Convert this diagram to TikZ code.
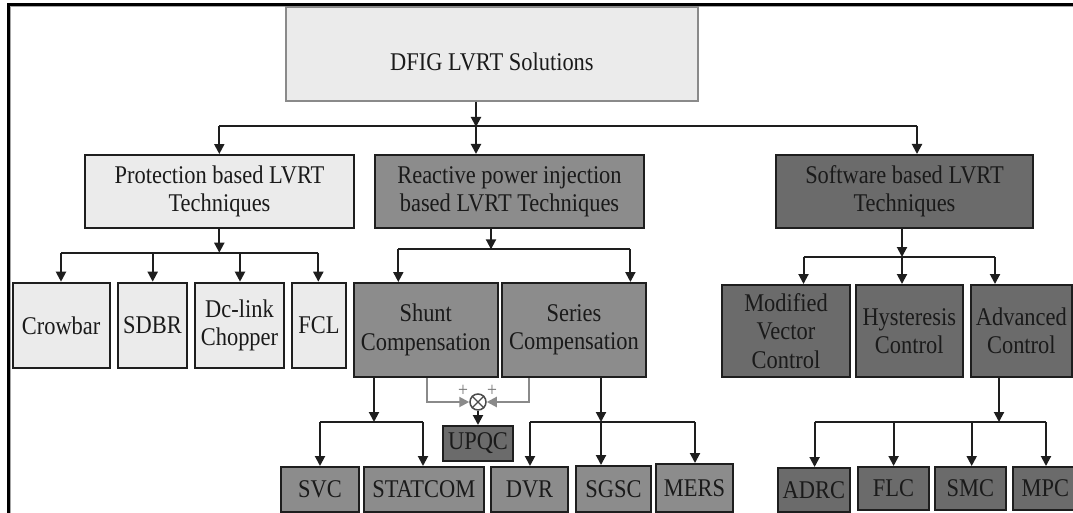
\documentclass[tikz,border=0pt]{standalone}
\usepackage{fontspec}
\setmainfont[FakeStretch=0.88]{Liberation Serif}
\usetikzlibrary{arrows.meta}
\definecolor{lightfill}{HTML}{EBEBEB}
\definecolor{midfill}{HTML}{8C8C8C}
\definecolor{darkfill}{HTML}{6B6B6B}
\definecolor{edgec}{HTML}{1E1E1E}
\definecolor{greyedge}{HTML}{8A8A8A}
\definecolor{txt}{HTML}{1A1A1A}
\begin{document}
\begin{tikzpicture}[x=1pt,y=-1pt,
  box/.style={draw=edgec, line width=2pt, inner sep=0pt, align=center, text=txt,
              font=\fontsize{25.5}{28.3}\selectfont},
  lbox/.style={box, fill=lightfill},
  mbox/.style={box, fill=midfill},
  dbox/.style={box, fill=darkfill},
  arr/.style={draw=edgec, line width=2pt, -{Triangle[length=10pt,width=10pt]}},
  ln/.style={draw=edgec, line width=2pt},
  garr/.style={draw=greyedge, line width=2pt, -{Triangle[length=10pt,width=10pt]}},
  plussign/.style={text=greyedge!85!black, font=\fontsize{20}{20}\selectfont, inner sep=0pt},
]
\useasboundingbox (0,0) rectangle (1073,513);
\clip (0,0) rectangle (1073,513);
\fill[white] (0,0) rectangle (1073,513);

% frame
\draw[line width=2.5pt, black] (8.7,513) -- (8.7,4.5) -- (1073,4.5);
\draw[line width=1pt, black!35] (10.7,513) -- (10.7,6.3) -- (1073,6.3);

% level 0
\node[lbox, draw=greyedge, minimum width=411.7pt, minimum height=93.4pt] (dfig) at (491.9,54)
  {\raisebox{-8pt}[\height][\depth]{DFIG LVRT Solutions}};

% level 1
\node[lbox, minimum width=269pt, minimum height=73.3pt] (prot) at (219.5,191.7) {Protection based LVRT\\Techniques};
\node[mbox, minimum width=269pt, minimum height=73pt] (reac) at (509.5,191.5) {Reactive power injection\\based LVRT Techniques};
\node[dbox, minimum width=257pt, minimum height=73pt] (soft) at (904.5,191.5) {Software based LVRT\\Techniques};

% level 2 protection
\node[lbox, minimum width=96.8pt, minimum height=85.6pt] (crow) at (61.1,325.5) {Crowbar};
\node[lbox, minimum width=69.6pt, minimum height=85.6pt] (sdbr) at (152.5,325.5) {SDBR};
\node[lbox, minimum width=89pt, minimum height=85.6pt] (dcl) at (239.5,325.5) {Dc-link\\Chopper};
\node[lbox, minimum width=53.4pt, minimum height=85.6pt] (fcl) at (319,325.5) {FCL};

% level 2 reactive
\node[mbox, minimum width=144.5pt, minimum height=94pt] (shunt) at (425.75,330) {Shunt\\Compensation};
\node[mbox, minimum width=144pt, minimum height=94pt] (series) at (574,330) {Series\\Compensation};

% level 2 software
\node[dbox, minimum width=128pt, minimum height=92pt] (mvc) at (786,331) {Modified\\Vector\\Control};
\node[dbox, minimum width=107.5pt, minimum height=92pt] (hyst) at (909.25,331) {Hysteresis\\Control};
\node[dbox, minimum width=101.3pt, minimum height=92pt] (adv) at (1021.35,331) {Advanced\\Control};

% level 3
\node[mbox, minimum width=78pt, minimum height=44.5pt] (svc) at (320,489.25) {SVC};
\node[mbox, minimum width=119.5pt, minimum height=44.5pt] (stat) at (423.75,489.25) {STATCOM};
\node[dbox, minimum width=70pt, minimum height=35pt] (upqc) at (478,443.5) {UPQC};
\node[mbox, minimum width=77pt, minimum height=44.5pt] (dvr) at (529.5,489.25) {DVR};
\node[mbox, minimum width=75pt, minimum height=45.5pt] (sgsc) at (613.5,488.75) {SGSC};
\node[mbox, minimum width=77pt, minimum height=47.5pt] (mers) at (694.5,487.75) {MERS};
\node[dbox, minimum width=72.4pt, minimum height=44pt] (adrc) at (813.8,490) {ADRC};
\node[dbox, minimum width=71pt, minimum height=43pt] (flc) at (893.5,488.5) {FLC};
\node[dbox, minimum width=70.7pt, minimum height=43pt] (smc) at (970.35,488.5) {SMC};
\node[dbox, minimum width=65.3pt, minimum height=43pt] (mpc) at (1045.35,488.5) {MPC};

% summing junction
\node[circle, draw=edgec!80, line width=1.5pt, minimum size=16pt, inner sep=0pt, fill=white] (sum) at (478,402) {};
\draw[edgec!80, line width=1.3pt] (sum.north west) -- (sum.south east) (sum.north east) -- (sum.south west);
\node[plussign] (p1) at (463,391) {+};
\node[plussign] (p2) at (492,391) {+};

% junction coordinates
\coordinate (j0) at (476,126);
\coordinate (b0l) at (219.3,126);
\coordinate (b0r) at (917,126);
\coordinate (j1) at (219.3,252.7);
\coordinate (j1l) at (61,252.7);
\coordinate (j1a) at (152.7,252.7);
\coordinate (j1b) at (240,252.7);
\coordinate (j1r) at (318.3,252.7);
\coordinate (j2) at (491,249.3);
\coordinate (j2l) at (398.3,249.3);
\coordinate (j2r) at (630.4,249.3);
\coordinate (j3) at (902,257);
\coordinate (j3l) at (803.5,257);
\coordinate (j3r) at (995,257);
\coordinate (j4) at (374,422);
\coordinate (j4l) at (320,422);
\coordinate (j4r) at (423,422);
\coordinate (j5) at (601,422);
\coordinate (j5l) at (530,422);
\coordinate (j5r) at (695,422);
\coordinate (j6) at (999,422);
\coordinate (j6l) at (814.6,422);
\coordinate (j6a) at (893.6,422);
\coordinate (j6b) at (971.7,422);
\coordinate (j6r) at (1046,422);
\coordinate (g1) at (426.7,402);
\coordinate (g2) at (529,402);

% level 0 -> 1
\draw[arr] (dfig.south -| j0) -- ([yshift=-1pt]j0);
\draw[ln] (b0l) -- (b0r);
\draw[arr] (b0l) -- (b0l |- prot.north);
\draw[arr] (j0) -- (j0 |- reac.north);
\draw[arr] (b0r) -- (b0r |- soft.north);

% protection
\draw[arr] (prot.south -| j1) -- (j1);
\draw[ln] (j1l) -- (j1r);
\draw[arr] (j1l) -- (j1l |- crow.north);
\draw[arr] (j1a) -- (j1a |- sdbr.north);
\draw[arr] (j1b) -- (j1b |- dcl.north);
\draw[arr] (j1r) -- (j1r |- fcl.north);

% reactive
\draw[arr] (reac.south -| j2) -- (j2);
\draw[ln] (j2l) -- (j2r);
\draw[arr] (j2l) -- (j2l |- shunt.north);
\draw[arr] (j2r) -- (j2r |- series.north);

% software
\draw[arr] (soft.south -| j3) -- (j3);
\draw[ln] (j3l) -- (j3r);
\draw[arr] (j3l) -- (j3l |- mvc.north);
\draw[arr] (j3) -- (j3 |- hyst.north);
\draw[arr] (j3r) -- (j3r |- adv.north);

% shunt
\draw[arr] (shunt.south -| j4) -- (j4);
\draw[ln] (j4l) -- (j4r);
\draw[arr] (j4l) -- (j4l |- svc.north);
\draw[arr] (j4r) -- (j4r |- stat.north);

% series
\draw[arr] (series.south -| j5) -- (j5);
\draw[ln] (j5l) -- (j5r);
\draw[arr] (j5l) -- (j5l |- dvr.north);
\draw[arr] (j5) -- (j5 |- sgsc.north);
\draw[arr] (j5r) -- (j5r |- mers.north);

% advanced
\draw[arr] (adv.south -| j6) -- (j6);
\draw[ln] (j6l) -- (j6r);
\draw[arr] (j6l) -- (j6l |- adrc.north);
\draw[arr] (j6a) -- (j6a |- flc.north);
\draw[arr] (j6b) -- (j6b |- smc.north);
\draw[arr] (j6r) -- (j6r |- mpc.north);

% UPQC combination
\draw[garr] (shunt.south -| g1) -- (g1) -- (sum.west);
\draw[garr] (series.south -| g2) -- (g2) -- (sum.east);
\draw[arr] (sum.south) -- (upqc.north);
\end{tikzpicture}
\end{document}
